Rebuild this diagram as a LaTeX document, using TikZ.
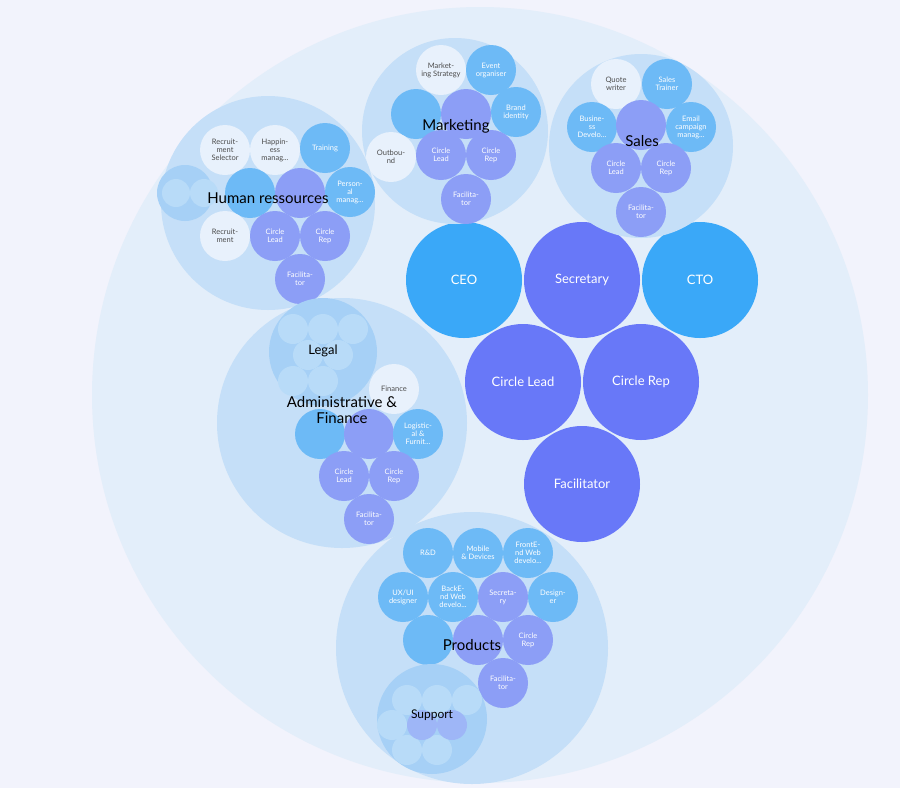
\documentclass[tikz,border=0pt]{standalone}
\usepackage{fontspec}
\setmainfont{Lato}
\usepackage{tikz}
\definecolor{bgc}{HTML}{F2F3FC}
\definecolor{outer}{HTML}{E3EEFA}
\definecolor{group}{HTML}{C5DFF8}
\definecolor{sub}{HTML}{A6D0F6}
\definecolor{bigblue}{HTML}{3AA8F8}
\definecolor{bigpurple}{HTML}{6878F8}
\definecolor{smblue}{HTML}{6DBAF6}
\definecolor{smpurple}{HTML}{8C9EF6}
\definecolor{smwhite}{HTML}{E8F1FC}
\definecolor{tinyc}{HTML}{B8DBF8}
\tikzset{
    bub/.style={circle, inner sep=0pt, outer sep=0pt, align=center,
        minimum size=2*(#1), font=\fontsize{7.5}{8}\selectfont},
    big blue/.style={bub=58, fill=bigblue, text=white, font=\fontsize{13}{15}\selectfont},
    big purple/.style={bub=58, fill=bigpurple, text=white, font=\fontsize{13}{15}\selectfont},
    sm blue/.style={bub=25, fill=smblue, text=white},
    sm purple/.style={bub=25, fill=smpurple, text=white},
    sm white/.style={bub=25, fill=smwhite, text=black!70},
    tiny/.style={circle, fill=tinyc, minimum size=2*(#1), inner sep=0pt},
    grouplabel/.style={font=\fontsize{15}{16}\selectfont, text=black, align=center}
}
\begin{document}
\begin{tikzpicture}[x=1pt,y=-1pt]
    \fill[bgc] (0,0) rectangle (900,788);
    \useasboundingbox (0,0) rectangle (900,788);
    \fill[outer] (480,395) circle (388);

    % top roles
    \node[big blue] (ceo) at (464,280) {CEO};
    \node[big purple] (sec) at (582,280) {Secretary};
    \node[big blue] (cto) at (700,280) {CTO};
    \node[big purple] (lead) at (523,382) {Circle Lead};
    \node[big purple] (rep) at (641,382) {Circle Rep};
    \node[big purple] (fac) at (582,484) {Facilitator};

    % marketing
    \fill[group] (455,131) circle (93);
    \node[sm white] (mk-strat) at (441,70) {Market-\\ing Strategy};
    \node[sm blue] (mk-event) at (491,70) {Event\\organiser};
    \node[sm blue] (mk-b1) at (416,114) {};
    \node[sm purple] (mk-p1) at (466,114) {};
    \node[sm blue] (mk-brand) at (516,112) {Brand\\identity};
    \node[sm white] (mk-out) at (391,157) {Outbou-\\nd};
    \node[sm purple] (mk-lead) at (441,155) {Circle\\Lead};
    \node[sm purple] (mk-rep) at (491,155) {Circle\\Rep};
    \node[sm purple] (mk-fac) at (466,199) {Facilita-\\tor};
    \node[grouplabel] (mk) at (456,126) {Marketing};

    % sales
    \fill[group] (641,146) circle (92);
    \node[sm white] (sa-quote) at (616,84) {Quote\\writer};
    \node[sm blue] (sa-train) at (667,84) {Sales\\Trainer};
    \node[sm blue] (sa-bus) at (592,127) {Busine-\\ss\\Develo...};
    \node[sm purple] (sa-p1) at (641,125) {};
    \node[sm blue] (sa-mail) at (691,127) {Email\\campaign\\manag...};
    \node[sm purple] (sa-lead) at (616,168) {Circle\\Lead};
    \node[sm purple] (sa-rep) at (666,168) {Circle\\Rep};
    \node[sm purple] (sa-fac) at (641,212) {Facilita-\\tor};
    \node[grouplabel] (sa) at (642,141) {Sales};

    % human ressources
    \fill[group] (268,203) circle (107);
    \fill[sub] (185,193) circle (28);
    \node[tiny=14] (hr-t1) at (176,193) {};
    \node[tiny=14] (hr-t2) at (204,193) {};
    \node[sm white] (hr-sel) at (225,150) {Recruit-\\ment\\Selector};
    \node[sm white] (hr-hap) at (275,150) {Happin-\\ess\\manag...};
    \node[sm blue] (hr-train) at (325,148) {Training};
    \node[sm blue] (hr-b1) at (250,193) {};
    \node[sm purple] (hr-p1) at (300,193) {};
    \node[sm blue] (hr-pers) at (350,192) {Person-\\al\\manag...};
    \node[sm white] (hr-rec) at (225,236) {Recruit-\\ment};
    \node[sm purple] (hr-lead) at (275,236) {Circle\\Lead};
    \node[sm purple] (hr-rep) at (325,236) {Circle\\Rep};
    \node[sm purple] (hr-fac) at (300,279) {Facilita-\\tor};
    \node[grouplabel] (hr) at (268,198) {Human ressources};

    % administrative and finance
    \fill[group] (342,423) circle (125);
    \fill[sub] (323,352) circle (54);
    \foreach \x/\y in {293/329,323/329,353/329,308/355,338/355,293/381,323/381}
        \node[tiny=15] at (\x,\y) {};
    \node[grouplabel] (legal) at (323,351) {\fontsize{13}{14}\selectfont Legal};
    \node[sm white] (af-fin) at (394,389) {Finance};
    \node[sm blue] (af-b1) at (320,434) {};
    \node[sm purple] (af-p1) at (369,434) {};
    \node[sm blue] (af-log) at (418,434) {Logistic-\\al \&\\Furnit...};
    \node[sm purple] (af-lead) at (344,476) {Circle\\Lead};
    \node[sm purple] (af-rep) at (394,476) {Circle\\Rep};
    \node[sm purple] (af-fac) at (369,519) {Facilita-\\tor};
    \node[grouplabel] (af) at (342,410) {Administrative \&\\Finance};

    % products
    \fill[group] (472,648) circle (136);
    \node[sm blue] (pr-rd) at (428,553) {R\&D};
    \node[sm blue] (pr-mob) at (478,553) {Mobile\\\& Devices};
    \node[sm blue] (pr-front) at (528,553) {FrontE-\\nd Web\\develo...};
    \node[sm blue] (pr-ux) at (403,597) {UX/UI\\designer};
    \node[sm blue] (pr-back) at (453,597) {BackE-\\nd Web\\develo...};
    \node[sm purple] (pr-sec) at (503,597) {Secreta-\\ry};
    \node[sm blue] (pr-des) at (553,597) {Design-\\er};
    \node[sm blue] (pr-b1) at (428,640) {};
    \node[sm purple] (pr-p1) at (478,640) {};
    \node[sm purple] (pr-rep) at (528,640) {Circle\\Rep};
    \node[sm purple] (pr-fac) at (503,683) {Facilita-\\tor};
    \node[grouplabel] (pr) at (472,645) {Products};

    % support
    \fill[sub] (432,719) circle (55);
    \foreach \x/\y in {407/700,437/700,467/700,392/725,407/750,437/750}
        \node[tiny=15] at (\x,\y) {};
    \foreach \x/\y in {422/725,452/725}
        \node[tiny=15, fill=smpurple!60!tinyc] at (\x,\y) {};
    \node[grouplabel] (sup) at (432,715) {\fontsize{12}{13}\selectfont Support};
\end{tikzpicture}
\end{document}
